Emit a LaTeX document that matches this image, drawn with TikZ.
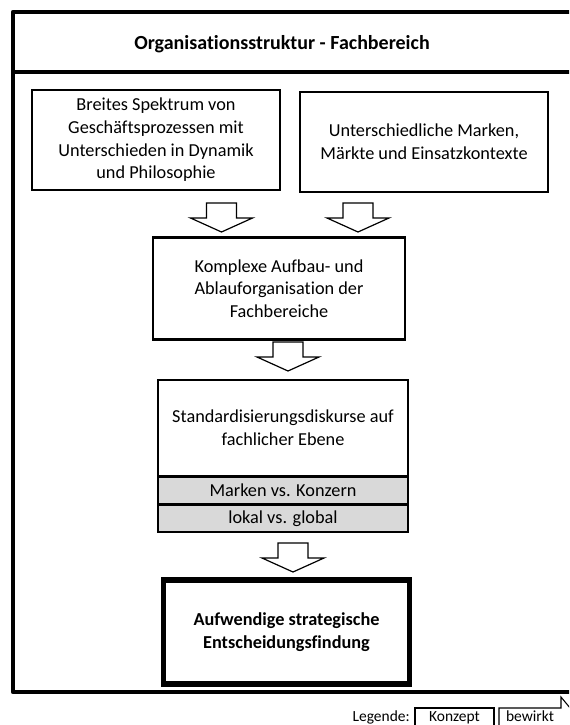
\documentclass[tikz,border=0pt]{standalone}
\usepackage{fontspec}
\setmainfont{Carlito}[Ligatures=NoCommon]
\begin{document}
\begin{tikzpicture}[x=0.75pt,y=-0.75pt,
  txt/.style={font=\fontsize{13.7}{17}\selectfont, align=center},
  concept/.style={draw, line width=2.2pt, fill=white, inner sep=0pt, txt},
  subrow/.style={draw, line width=1.9pt, fill=black!15, inner sep=0pt, txt},
  goal/.style={draw, line width=3.8pt, fill=white, inner sep=0pt, txt, font=\bfseries\fontsize{13.7}{17}\selectfont},
  arrowline/.style={draw, line width=0.9pt, fill=white, line join=miter},
  flowarrow/.pic={\path[arrowline] (-15,0) -- (15,0) -- (15,15) -- (31,15) -- (0,29) -- (-31,15) -- (-15,15) -- cycle;},
  legendtxt/.style={font=\fontsize{11.6}{13}\selectfont, inner sep=0pt, anchor=base}]
\useasboundingbox (0,0) rectangle (569,725);
\begin{scope}
\clip (0,0) rectangle (569,725);

% outer frame with header band
\draw[line width=3.6pt, line join=round] (600,12) -- (13,12) -- (13,692) -- (600,692);
\draw[line width=3.2pt] (13,72) -- (600,72);
\node[font=\bfseries\fontsize{15}{18}\selectfont] (title) at (282,44) {Organisationsstruktur - Fachbereich};

% concept boxes
\node[concept, minimum width=186pt, minimum height=75pt] (spektrum) at (156,140)
  {Breites Spektrum von\\Geschäftsprozessen mit\\Unterschieden in Dynamik\\und Philosophie};
\node[concept, minimum width=186pt, minimum height=75pt] (marken) at (424,142)
  {Unterschiedliche Marken,\\Märkte und Einsatzkontexte};
\node[concept, minimum width=189pt, minimum height=77pt] (aufbau) at (279,288.5)
  {Komplexe Aufbau- und\\Ablauforganisation der\\Fachbereiche};
\node[concept, minimum width=187.5pt, minimum height=72pt] (diskurs) at (283,428)
  {Standardisierungsdiskurse auf\\fachlicher Ebene};
\node[subrow, minimum width=187.5pt, minimum height=20pt] (konzern) at (283,490.5)
  {Marken vs. Konzern};
\node[subrow, minimum width=187.5pt, minimum height=20pt] (global) at (283,518.5)
  {lokal vs. global};
\node[goal, minimum width=185pt, minimum height=78pt] (entscheidung) at (286.5,632)
  {Aufwendige strategische\\Entscheidungsfindung};

% block arrows between the concepts
\pic at (221.5,203) {flowarrow};
\pic at (358,203) {flowarrow};
\pic at (288,342) {flowarrow};
\pic at (293,543) {flowarrow};

% legend
\node[legendtxt, anchor=base east] (legende) at (410,721) {Legende:};
\draw[line width=0.8pt] (415,740) -- (415,708) -- (494,708) -- (494,740);
\node[legendtxt] (konzept) at (454.5,721) {Konzept};
\path[arrowline, line width=0.8pt] (499,740) -- (499,708) -- (561,708) -- (561,697) -- (580,720) -- (561,743);
\node[legendtxt] (bewirkt) at (530,721) {bewirkt};
\end{scope}
\end{tikzpicture}
\end{document}
